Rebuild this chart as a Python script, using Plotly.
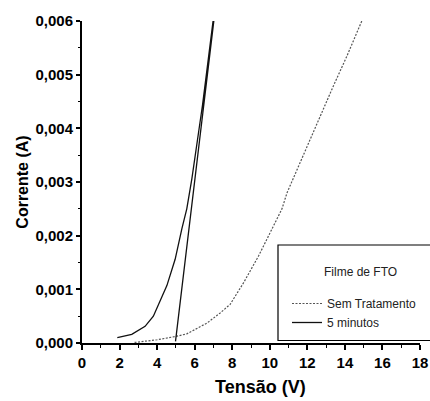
import plotly.graph_objects as go

# Sem Tratamento (dotted)
v_sem = [2.8, 3.4, 4.0, 4.96, 5.58, 6.65, 7.36, 7.89, 8.6, 9.4, 10.1, 10.65, 10.92, 11.63, 12.5, 13.4, 14.1, 14.9]
i_sem = [0.00001, 0.00003, 0.00006, 0.00012, 0.00017, 0.00037, 0.00056, 0.00072, 0.00112, 0.00162,
         0.00212, 0.0025, 0.0028, 0.00337, 0.0041, 0.0048, 0.00534, 0.006]

# 5 minutos (solid, forward curve then straight return)
v_5 = [1.88, 2.65, 3.36, 3.8, 4.52, 4.96, 5.32, 5.58, 5.85, 6.42, 6.98, 7.02, 4.98]
i_5 = [0.0001, 0.00016, 0.00031, 0.0005, 0.00107, 0.00156, 0.00213, 0.0025, 0.00306, 0.00444, 0.006, 0.006, 0.00003]

x_ticks = [0, 2, 4, 6, 8, 10, 12, 14, 16, 18]
y_ticks = [0, 0.001, 0.002, 0.003, 0.004, 0.005, 0.006]

W, H = 430, 401
L, R, T, B = 82, 10, 21, 58

fig = go.Figure()
fig.add_trace(go.Scatter(x=v_sem, y=i_sem, mode="lines", name="Sem Tratamento",
                         line=dict(color="#555555", width=1.2, dash="2px,1.5px")))
fig.add_trace(go.Scatter(x=v_5, y=i_5, mode="lines", name="5 minutos",
                         line=dict(color="#111111", width=1.3)))

font_bold = "Liberation Sans, Arial, sans-serif"

def px_to_paper_x(px):
    return (px - L) / (W - L - R)

def px_to_paper_y(py):
    return (H - B - py) / (H - T - B)

fig.update_layout(
    width=W, height=H,
    margin=dict(l=L, r=R, t=T, b=B, autoexpand=False),
    paper_bgcolor="white", plot_bgcolor="white",
    separators=",.",
    showlegend=True,
    legend=dict(x=px_to_paper_x(287), y=px_to_paper_y(289), xanchor="left", yanchor="top",
                bgcolor="rgba(0,0,0,0)", borderwidth=0,
                font=dict(family="Liberation Sans, Arial, sans-serif", size=12, color="#222"),
                itemwidth=30, tracegroupgap=0),
    xaxis=dict(range=[0, 18], tickvals=x_ticks, ticktext=[str(v) for v in x_ticks], automargin=False,
               showgrid=False, zeroline=False, showline=True, linecolor="black", linewidth=2,
               ticks="outside", ticklen=5, tickwidth=1.5, tickcolor="black",
               minor=dict(dtick=1, tick0=0, ticks="outside", ticklen=3, tickwidth=1, tickcolor="black"),
               tickfont=dict(family=font_bold, size=15, color="black", weight="bold")),
    yaxis=dict(range=[0, 0.006], tickvals=y_ticks, tickformat=".3f", automargin=False,
               showgrid=False, zeroline=False, showline=True, linecolor="black", linewidth=2,
               ticks="outside", ticklen=4, tickwidth=1.5, tickcolor="black",
               minor=dict(dtick=0.0005, tick0=0, ticks="outside", ticklen=2, tickwidth=1, tickcolor="black"),
               tickfont=dict(family=font_bold, size=15, color="black", weight="bold"),
               title=dict(text="Corrente (A)", font=dict(family=font_bold, size=16, color="black", weight="bold"),
                          standoff=3)),
    xaxis2=dict(range=[0, 18], overlaying="x", side="top", anchor="y", showgrid=False, zeroline=False,
                automargin=False,
                showline=True, linecolor="black", linewidth=1.2, tickvals=x_ticks, showticklabels=False,
                ticks="outside", ticklen=5, tickwidth=1, tickcolor="black",
                minor=dict(dtick=1, tick0=0, ticks="outside", ticklen=3, tickwidth=1, tickcolor="black")),
    yaxis2=dict(range=[0, 0.006], overlaying="y", side="right", anchor="x", showgrid=False, zeroline=False,
                automargin=False,
                showline=True, linecolor="#888888", linewidth=1.5, tickvals=y_ticks, showticklabels=False,
                ticks="outside", ticklen=4, tickwidth=1, tickcolor="#888888",
                minor=dict(dtick=0.0005, tick0=0, ticks="outside", ticklen=2, tickwidth=1, tickcolor="#888888")),
    shapes=[dict(type="rect", xref="paper", yref="paper",
                 x0=px_to_paper_x(278), x1=px_to_paper_x(445),
                 y0=px_to_paper_y(340.5), y1=px_to_paper_y(245),
                 line=dict(color="black", width=1.2), fillcolor="white", layer="above")],
    annotations=[
        dict(text="Filme de FTO", xref="paper", yref="paper",
             x=px_to_paper_x(360), y=px_to_paper_y(272), xanchor="center", yanchor="middle",
             showarrow=False,
             font=dict(family="Liberation Sans, Arial, sans-serif", size=12, color="#222")),
        dict(text="Tensão (V)", xref="paper", yref="paper",
             x=px_to_paper_x(260), y=px_to_paper_y(387), xanchor="center", yanchor="middle",
             showarrow=False,
             font=dict(family=font_bold, size=18, color="black", weight="bold")),
    ],
)

fig.write_html("out.html", config={"displayModeBar": False},
               post_script="document.body.style.margin='0';document.body.style.padding='0';document.body.style.overflow='hidden';")
